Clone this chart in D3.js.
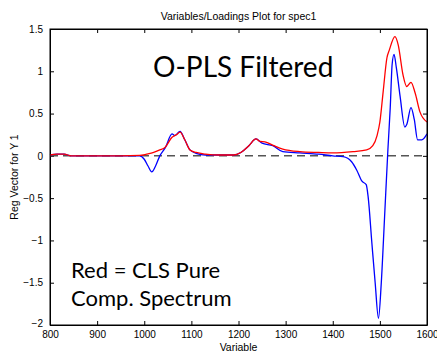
<!DOCTYPE html>
<html>
<head>
<meta charset="utf-8">
<script src="https://cdn.jsdelivr.net/npm/d3@7"></script>
<style>
  body { margin: 0; background: #fff; }
  svg { display: block; }
  .axis text { font-family: "Liberation Sans", Arial, sans-serif; font-size: 10px; fill: #000; }
  .lbl { font-family: "Liberation Sans", Arial, sans-serif; font-size: 10.5px; fill: #000; }
  .note { font-family: Lato, "Open Sans", sans-serif; fill: #000; }
</style>
</head>
<body>
<div id="chart"></div>
<script>
// values
const redX = [800, 815, 830, 845, 870, 900, 950, 990, 1005, 1020, 1033, 1044, 1059, 1068, 1076, 1086, 1097, 1110, 1130, 1160, 1190, 1205, 1222, 1237, 1246, 1256, 1275, 1294, 1330, 1370, 1400, 1443, 1472, 1485, 1494, 1500, 1507, 1515, 1520, 1532, 1539, 1549, 1557, 1566, 1575, 1585, 1600];
const redY = [0.01, 0.02, 0.02, 0.0, 0.0, 0.0, 0.0, 0.005, 0.02, 0.04, 0.07, 0.1, 0.22, 0.25, 0.28, 0.19, 0.07, 0.04, 0.02, 0.01, 0.01, 0.04, 0.12, 0.2, 0.17, 0.165, 0.12, 0.08, 0.05, 0.04, 0.035, 0.05, 0.07, 0.12, 0.24, 0.4, 0.76, 1.16, 1.25, 1.41, 1.31, 0.96, 0.82, 0.87, 0.74, 0.52, 0.40];

const blueX = [800, 815, 830, 845, 870, 900, 950, 990, 1000, 1008, 1016, 1024, 1033, 1045, 1059, 1065, 1076, 1086, 1097, 1110, 1130, 1160, 1190, 1205, 1222, 1237, 1250, 1273, 1294, 1330, 1370, 1400, 1422, 1440, 1451, 1462, 1471, 1475, 1483, 1490, 1497, 1503, 1510, 1517, 1522, 1526, 1530, 1535, 1543, 1553, 1557, 1566, 1573, 1580, 1589, 1600];
const blueY = [0.01, 0.02, 0.02, 0.0, 0.0, 0.0, 0.0, 0.0, -0.04, -0.12, -0.19, -0.12, 0.0, 0.1, 0.26, 0.24, 0.29, 0.19, 0.07, 0.03, 0.01, 0.01, 0.01, 0.04, 0.12, 0.2, 0.15, 0.12, 0.05, 0.035, 0.02, 0.0, -0.01, -0.07, -0.17, -0.3, -0.34, -0.48, -1.03, -1.5, -1.92, -1.5, -0.72, 0.07, 0.57, 1.08, 1.2, 1.04, 0.7, 0.34, 0.37, 0.57, 0.43, 0.19, 0.19, 0.26];

const xTicks = [800, 900, 1000, 1100, 1200, 1300, 1400, 1500, 1600];
const yTicks = [-2, -1.5, -1, -0.5, 0, 0.5, 1, 1.5];

const width = 437, height = 353;
const margin = {top: 29, right: 10, bottom: 28, left: 50};

const svg = d3.select("#chart").append("svg")
    .attr("width", width)
    .attr("height", height);

const xScale = d3.scaleLinear()
    .domain([800, 1600])
    .range([margin.left, width - margin.right]);

const yScale = d3.scaleLinear()
    .domain([-2, 1.5])
    .range([height - margin.bottom, margin.top]);

const fmt = d => d3.format("")(d).replace("-", "\u2212");

// ticks inward, on all four sides
svg.append("g")
    .attr("class", "axis")
    .attr("transform", "translate(0," + yScale(-2) + ")")
    .call(d3.axisBottom(xScale).tickValues(xTicks).tickFormat(d => d).tickSizeInner(-4).tickSizeOuter(0).tickPadding(6));

svg.append("g")
    .attr("class", "axis")
    .attr("transform", "translate(0," + yScale(1.5) + ")")
    .call(d3.axisTop(xScale).tickValues(xTicks).tickFormat("").tickSizeInner(-4).tickSizeOuter(0));

svg.append("g")
    .attr("class", "axis")
    .attr("transform", "translate(" + xScale(800) + ",0)")
    .call(d3.axisLeft(yScale).tickValues(yTicks).tickFormat(fmt).tickSizeInner(-4).tickSizeOuter(0).tickPadding(7));

svg.append("g")
    .attr("class", "axis")
    .attr("transform", "translate(" + xScale(1600) + ",0)")
    .call(d3.axisRight(yScale).tickValues(yTicks).tickFormat("").tickSizeInner(-4).tickSizeOuter(0));

svg.selectAll(".axis path, .axis line").attr("stroke", "#000");

// the bottom-left labels sit like MATLAB's
svg.selectAll(".axis text").filter(d => d === -2).attr("dy", "0.1em");

// zero line
svg.append("line")
    .attr("x1", xScale(800))
    .attr("x2", xScale(1600))
    .attr("y1", yScale(0))
    .attr("y2", yScale(0))
    .attr("stroke", "#555")
    .attr("stroke-width", 1.5)
    .attr("stroke-dasharray", "8,5");

const lineFunction = d3.line()
    .x(d => xScale(d[0]))
    .y(d => yScale(d[1]))
    .curve(d3.curveMonotoneX);

svg.append("path")
    .datum(blueX.map((x, i) => [x, blueY[i]]))
    .attr("d", lineFunction)
    .attr("stroke", "#0000ff")
    .attr("stroke-width", 1.3)
    .attr("fill", "none");

svg.append("path")
    .datum(redX.map((x, i) => [x, redY[i]]))
    .attr("d", lineFunction)
    .attr("stroke", "#ff0000")
    .attr("stroke-width", 1.3)
    .attr("fill", "none");

// redraw the box on top
svg.append("rect")
    .attr("x", xScale(800))
    .attr("y", yScale(1.5))
    .attr("width", xScale(1600) - xScale(800))
    .attr("height", yScale(-2) - yScale(1.5))
    .attr("fill", "none")
    .attr("stroke", "#000");

// titles
svg.append("text")
    .attr("class", "lbl")
    .attr("x", (xScale(800) + xScale(1600)) / 2)
    .attr("y", 20)
    .attr("text-anchor", "middle")
    .text("Variables/Loadings Plot for spec1");

svg.append("text")
    .attr("class", "lbl")
    .attr("x", (xScale(800) + xScale(1600)) / 2)
    .attr("y", 351)
    .attr("text-anchor", "middle")
    .text("Variable");

svg.append("text")
    .attr("class", "lbl")
    .attr("transform", "translate(18," + yScale(-0.25) + ") rotate(-90)")
    .attr("text-anchor", "middle")
    .text("Reg Vector for Y 1");

// annotations
svg.append("text")
    .attr("class", "note")
    .attr("x", 153)
    .attr("y", 77)
    .style("font-size", "28px")
    .text("O-PLS Filtered");

svg.append("text")
    .attr("class", "note")
    .attr("x", 71)
    .attr("y", 278)
    .style("font-size", "22px")
    .text("Red = CLS Pure");

svg.append("text")
    .attr("class", "note")
    .attr("x", 71)
    .attr("y", 306)
    .style("font-size", "22px")
    .text("Comp. Spectrum");
</script>
</body>
</html>
